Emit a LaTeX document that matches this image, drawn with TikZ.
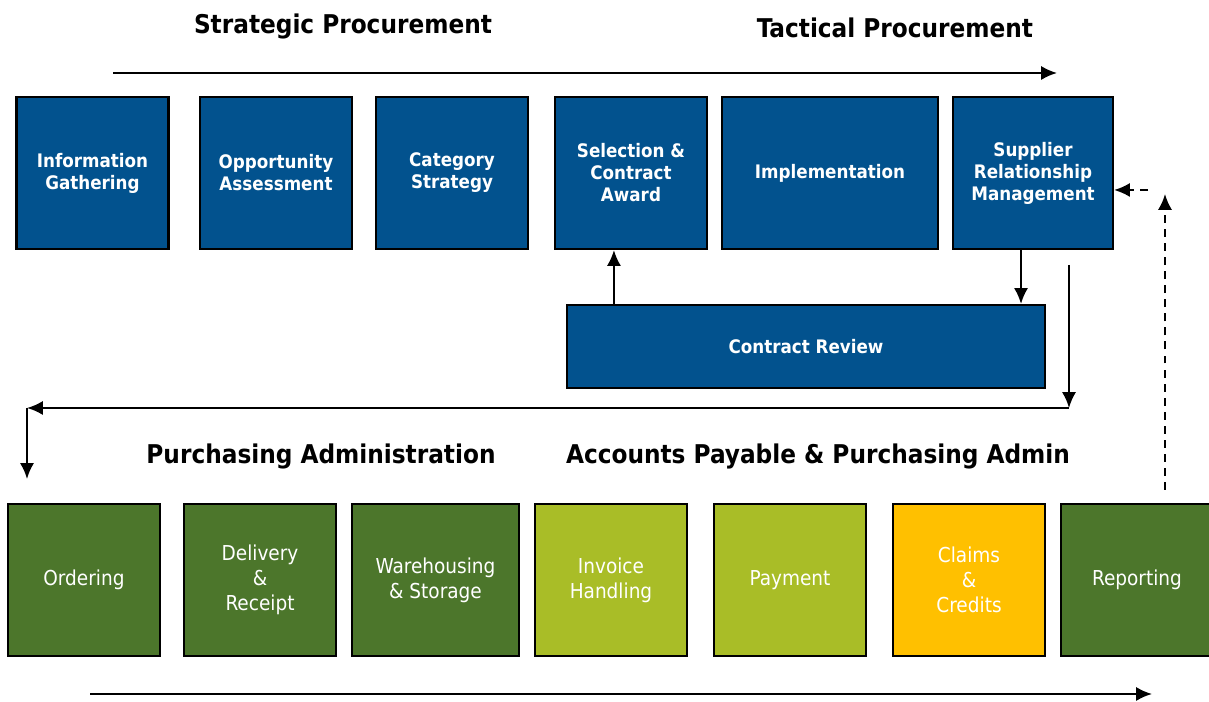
\documentclass[tikz,border=0pt]{standalone}
\usepackage{fontspec}
\setmainfont{DejaVu Sans Condensed}
\usepackage{xcolor}
\usepackage{tikz}
\usetikzlibrary{arrows.meta}

\definecolor{procblue}{RGB}{2,82,142}
\definecolor{admingreen}{RGB}{76,118,43}
\definecolor{paygreen}{RGB}{169,189,39}
\definecolor{claimyellow}{RGB}{255,192,0}

\begin{document}
\begin{tikzpicture}[every node/.style={
    rectangle,
    align=center,
  },
  stagebox/.style={draw=black, line width=1.2pt, text=white, inner sep=0pt,
    minimum height=3.04cm, minimum width=3.04cm},
  topbox/.style={stagebox, fill=procblue, font=\bfseries\fontsize{10.6}{12.5}\selectfont},
  lowbox/.style={stagebox, font=\fontsize{11.7}{14.2}\selectfont},
  heading/.style={font=\bfseries\fontsize{14.7}{17}\selectfont},
  >={Latex[length=9pt,width=8pt]}, line width=1.2pt]

  \useasboundingbox (0,0) rectangle (24.18,14.04);

  % strategic / tactical row
  \node[topbox] (n0) at (1.85,10.58) {Information\\Gathering};
  \node[topbox, right of=n0, node distance=3.67cm] (n1) {Opportunity\\Assessment};
  \node[topbox, right of=n1, node distance=3.52cm] (n2) {Category\\Strategy};
  \node[topbox, right of=n2, node distance=3.58cm] (n3) {Selection \&\\Contract\\Award};
  \node[topbox, right of=n3, node distance=3.98cm, minimum width=4.32cm] (n4) {Implementation};
  \node[topbox, right of=n4, node distance=4.06cm, minimum width=3.2cm] (n5) {Supplier\\Relationship\\Management};

  \node[topbox, minimum width=9.56cm, minimum height=1.66cm] (n6) at (16.12,7.11) {Contract Review};

  % purchasing / payables row
  \node[lowbox, fill=admingreen] (n7) at (1.68,2.44) {Ordering};
  \node[lowbox, fill=admingreen, right of=n7, node distance=3.52cm] (n8) {Delivery\\\&\\Receipt};
  \node[lowbox, fill=admingreen, right of=n8, node distance=3.51cm, minimum width=3.34cm] (n9) {Warehousing\\\& Storage};
  \node[lowbox, fill=paygreen, right of=n9, node distance=3.51cm] (n10) {Invoice\\Handling};
  \node[lowbox, fill=paygreen, right of=n10, node distance=3.58cm] (n11) {Payment};
  \node[lowbox, fill=claimyellow, right of=n11, node distance=3.58cm] (n12) {Claims\\\&\\Credits};
  \node[lowbox, fill=admingreen, right of=n12, node distance=3.36cm] (n13) {Reporting};

  \node[heading] (h0) at (6.86,13.52) {Strategic Procurement};
  \node[heading] (h1) at (17.9,13.48) {Tactical Procurement};
  \node[heading] (h2) at (6.42,4.92) {Purchasing Administration};
  \node[heading] (h3) at (16.36,4.92) {Accounts Payable \& Purchasing Admin};

  \coordinate (a0) at (2.26,12.58);
  \coordinate (a1) at (21.14,12.58);
  \draw[->] (a0) -- (a1);

  \draw[->] ([xshift=0.96cm]n6.north west) -- ([xshift=0.96cm]n6.north west |- n3.south);
  \draw[->] ([xshift=-0.24cm]n5.south) -- ([xshift=-0.24cm]n5.south |- n6.north);

  % hand-over back down to ordering
  \coordinate (r0) at (21.38,8.74);
  \coordinate (r1) at (21.38,5.88);
  \coordinate (r2) at (0.54,5.88);
  \coordinate (r3) at (0.54,4.46);
  \draw[->] (r0) -- (r1);
  \draw[->] (r1) -- (r2);
  \draw[->] (r2) -- (r3);

  % reporting feeds back to SRM
  \coordinate (d0) at (23.3,4.24);
  \coordinate (d1) at (23.3,10.16);
  \coordinate (d2) at (22.96,10.24);
  \draw[->, dash pattern=on 4.5pt off 3.5pt] (d0) -- (d1);
  \draw[->, dash pattern=on 4.5pt off 3.5pt] (d2) -- (d2 -| n5.east);

  \coordinate (b0) at (1.8,0.16);
  \coordinate (b1) at (23.04,0.16);
  \draw[->] (b0) -- (b1);

\end{tikzpicture}
\end{document}
